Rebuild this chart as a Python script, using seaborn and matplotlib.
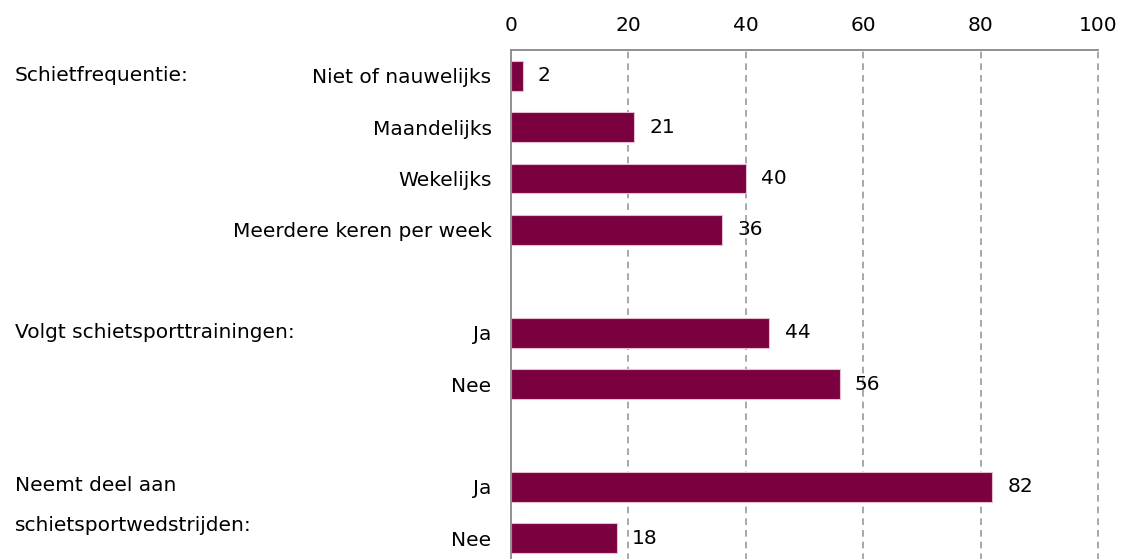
import pandas as pd
import matplotlib.pyplot as plt
import matplotlib.transforms as mtransforms
import seaborn as sns

# Data
group_titles = ["Schietfrequentie:", "Volgt schietsporttrainingen:",
                "Neemt deel aan\nschietsportwedstrijden:"]
freq_labels = ["Niet of nauwelijks", "Maandelijks", "Wekelijks", "Meerdere keren per week"]
freq_values = [2, 21, 40, 36]
training_labels = ["Ja", "Nee"]
training_values = [44, 56]
match_labels = ["Ja", "Nee"]
match_values = [82, 18]
x_ticks = [0, 20, 40, 60, 80, 100]

bar_color = "#7a0040"
font_size = 14.5

groups = [(freq_labels, freq_values), (training_labels, training_values),
          (match_labels, match_values)]

# rijen opbouwen, met een lege rij tussen de groepen
rows = []
order = []
tick_labels = []
title_rows = []
for g, (labels, values) in enumerate(groups):
    if g > 0:
        order.append(f"gap{g}")
        tick_labels.append("")
    title_rows.append(len(order))
    for i, (lab, val) in enumerate(zip(labels, values)):
        key = f"{g}_{i}"
        rows.append({"key": key, "value": val})
        order.append(key)
        tick_labels.append(lab)
df = pd.DataFrame(rows)

sns.set_style("white")
plt.rcParams["font.family"] = ["DejaVu Sans"]
plt.rcParams["text.color"] = "black"
plt.rcParams["xtick.color"] = "black"
plt.rcParams["ytick.color"] = "black"

fig = plt.figure(figsize=(11.21, 5.59), dpi=100)
ax = fig.add_axes([0.4558, -0.0089, 0.5237, 0.9195])

sns.barplot(data=df, x="value", y="key", order=order, orient="h",
            color=bar_color, saturation=1, width=0.58,
            edgecolor="#e6bcd0", linewidth=0.8, ax=ax)

for container in ax.containers:
    ax.bar_label(container, padding=11, fontsize=font_size, color="black")

ax.set_xlim(0, 100)
ax.set_ylim(len(order) - 0.5, -0.5)
ax.set_xticks(x_ticks)
ax.xaxis.tick_top()
ax.tick_params(axis="x", length=0, pad=11, labelsize=font_size)
ax.set_yticks(range(len(order)))
ax.set_yticklabels(tick_labels)
ax.tick_params(axis="y", length=0, pad=14, labelsize=font_size)
ax.set_xlabel("")
ax.set_ylabel("")

# gestippelde rasterlijnen
for xv in x_ticks[1:]:
    ax.axvline(xv, color="#999999", linestyle=(0, (4, 3)), linewidth=1.2,
               zorder=0, clip_on=False)
for side in ["right", "bottom"]:
    ax.spines[side].set_visible(False)
for side in ["left", "top"]:
    ax.spines[side].set_color("#888888")
    ax.spines[side].set_linewidth(1.3)

trans = mtransforms.blended_transform_factory(fig.transFigure, ax.transData)
for title, r in zip(group_titles, title_rows):
    if "\n" in title:
        ax.text(15 / 1121, r - 0.22, title, transform=trans, ha="left", va="top",
                fontsize=font_size, linespacing=2.4, clip_on=False)
    else:
        ax.text(15 / 1121, r, title, transform=trans, ha="left", va="center",
                fontsize=font_size, clip_on=False)

fig.savefig("out.png", dpi=100)
